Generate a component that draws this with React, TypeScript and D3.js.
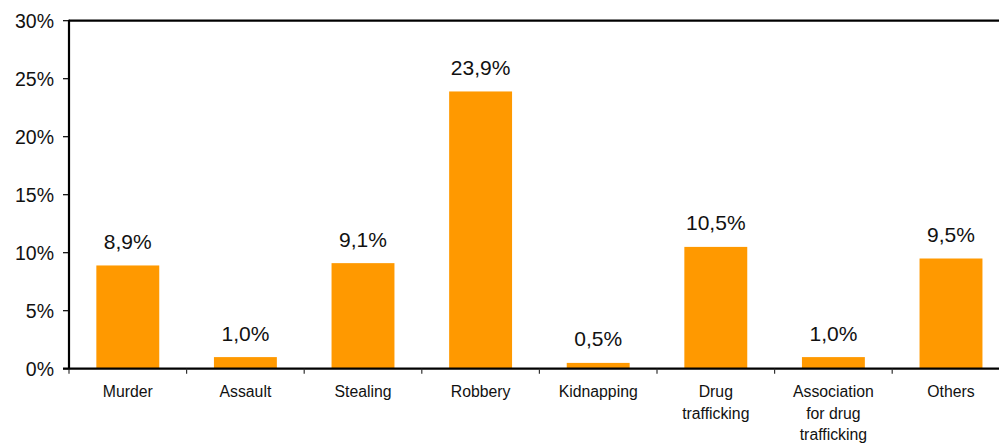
import React from "react";
import * as d3 from "d3";

const categories: string[][] = [
  ["Murder"],
  ["Assault"],
  ["Stealing"],
  ["Robbery"],
  ["Kidnapping"],
  ["Drug", "trafficking"],
  ["Association", "for drug", "trafficking"],
  ["Others"],
];
const values: number[] = [8.9, 1.0, 9.1, 23.9, 0.5, 10.5, 1.0, 9.5];
const valueLabels: string[] = ["8,9%", "1,0%", "9,1%", "23,9%", "0,5%", "10,5%", "1,0%", "9,5%"];
const yTicks: number[] = [0, 5, 10, 15, 20, 25, 30];

const W = 999;
const H = 443;
const left = 69;
const right = 69 + 117.6 * 8;
const top = 20.7;
const bottom = 368.7;

export default function App() {
  const keys = categories.map((c) => c.join(" "));
  const x = d3
    .scaleBand<string>()
    .domain(keys)
    .range([left, right])
    .paddingInner(0.465)
    .paddingOuter(0.2325);
  const step = x.step();
  const y = d3.scaleLinear().domain([0, 30]).range([bottom, top]);
  const font = "Arial, 'Liberation Sans', Helvetica, sans-serif";

  return (
    <svg
      width={W}
      height={H}
      style={{ position: "absolute", left: 0, top: 0, background: "#fff" }}
      fontFamily={font}
    >
      {values.map((v, i) => (
        <rect
          key={"b" + i}
          x={x(keys[i])!}
          y={y(v)}
          width={x.bandwidth()}
          height={y(0) - y(v)}
          fill="#FF9900"
        />
      ))}
      {values.map((v, i) => (
        <text
          key={"v" + i}
          x={x(keys[i])! + x.bandwidth() / 2}
          y={y(v) - 16.5}
          textAnchor="middle"
          fontSize={21}
          fill="#111"
        >
          {valueLabels[i]}
        </text>
      ))}
      <line x1={left} x2={W} y1={top} y2={top} stroke="#000" strokeWidth={2.2} />
      <line x1={left} x2={left} y1={top - 1} y2={bottom + 1} stroke="#000" strokeWidth={2.2} />
      {yTicks.map((t) => (
        <g key={"t" + t}>
          <line x1={left - 6} x2={left} y1={y(t)} y2={y(t)} stroke="#000" strokeWidth={1.2} />
          <text
            x={54}
            y={y(t)}
            dy="0.36em"
            textAnchor="end"
            fontSize={19.5}
            fill="#111"
          >
            {t + "%"}
          </text>
        </g>
      ))}
      <line x1={left - 6} x2={W} y1={bottom} y2={bottom} stroke="#000" strokeWidth={2.2} />
      {keys.map((k, i) => (
        <line
          key={"xt" + i}
          x1={left + step * i}
          x2={left + step * i}
          y1={bottom}
          y2={bottom + 5}
          stroke="#333"
          strokeWidth={1.2}
        />
      ))}
      {categories.map((lines, i) => (
        <text
          key={"c" + i}
          x={x(keys[i])! + x.bandwidth() / 2}
          y={397}
          textAnchor="middle"
          fontSize={15.8}
          fill="#111"
        >
          {lines.map((ln, j) => (
            <tspan key={j} x={x(keys[i])! + x.bandwidth() / 2} dy={j === 0 ? 0 : 21.5}>
              {ln}
            </tspan>
          ))}
        </text>
      ))}
    </svg>
  );
}
